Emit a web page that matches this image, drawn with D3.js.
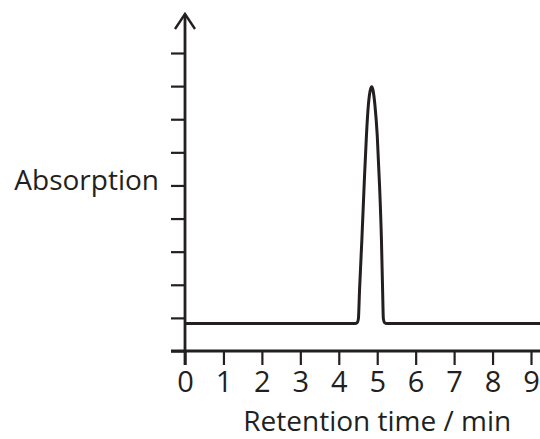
<!DOCTYPE html>
<html>
<head>
<meta charset="utf-8">
<script src="https://cdn.jsdelivr.net/npm/d3@7"></script>
<style>
  html, body { margin: 0; padding: 0; background: #fff; }
  svg { display: block; }
  text { font-family: "Open Sans", "Noto Sans", sans-serif; fill: #231f20; }
</style>
</head>
<body>
<svg id="chart" width="540" height="439"></svg>
<script>
// Data
const xTicks = [0, 1, 2, 3, 4, 5, 6, 7, 8, 9];
const yTicks = [0, 1, 2, 3, 4, 5, 6, 7, 8, 9];
const time = [0, 4.42, 4.48, 4.51, 4.54, 4.60, 4.66, 4.72, 4.77, 4.82, 4.86, 4.89, 4.94, 5.00, 5.06, 5.11, 5.14, 5.16, 5.19, 5.25, 9.24];
const absorption = [0.83, 0.83, 0.86, 0.97, 1.84, 3.35, 5.01, 6.52, 7.43, 7.88, 7.98, 7.88, 7.43, 6.52, 5.01, 3.35, 1.84, 0.97, 0.86, 0.83, 0.83];
const xLabel = "Retention time / min";
const yLabel = "Absorption";

const ink = "#231f20";
const svg = d3.select("#chart");

const x = d3.scaleLinear().domain([0, 9]).range([185, 531]);
const y = d3.scaleLinear().domain([0, 9]).range([351, 53]);

// Y axis ticks
const yAxis = d3.axisLeft(y).tickValues(yTicks).tickSize(14).tickFormat("");
const gy = svg.append("g").attr("transform", `translate(${x(0)},0)`).call(yAxis);
gy.select(".domain").remove();
gy.selectAll(".tick line").attr("stroke", ink).attr("stroke-width", 2.2);

// X axis ticks
const xAxis = d3.axisBottom(x).tickValues(xTicks).tickSize(14).tickFormat(d3.format("d"));
const gx = svg.append("g").attr("transform", `translate(0,${y(0)})`).call(xAxis);
gx.select(".domain").remove();
gx.selectAll(".tick line").attr("stroke", ink).attr("stroke-width", 2.2);
gx.selectAll(".tick text")
  .attr("y", 0).attr("dy", null)
  .attr("transform", "translate(0,41)")
  .style("font-size", "29px")
  .style("font-family", '"Open Sans", "Noto Sans", sans-serif')
  .attr("fill", ink);

// X axis line extending to the right edge
svg.append("line")
  .attr("x1", x(0) - 14).attr("x2", 540)
  .attr("y1", y(0)).attr("y2", y(0))
  .attr("stroke", ink).attr("stroke-width", 2.8);

// Y axis line with arrow
const yTop = 14;
svg.append("line")
  .attr("x1", x(0)).attr("x2", x(0))
  .attr("y1", y(0) + 14).attr("y2", yTop)
  .attr("stroke", ink).attr("stroke-width", 2.8);
svg.append("path")
  .attr("d", `M${x(0) - 10},${yTop + 15} L${x(0)},${yTop} L${x(0) + 10},${yTop + 15}`)
  .attr("fill", "none").attr("stroke", ink).attr("stroke-width", 2.4)
  .attr("stroke-linejoin", "miter");

// Signal trace
const pts = time.map((t, i) => [t, absorption[i]]);
const line = d3.line().x(d => x(d[0])).y(d => y(d[1])).curve(d3.curveMonotoneX);
svg.append("path")
  .datum(pts)
  .attr("d", line)
  .attr("fill", "none")
  .attr("stroke", ink)
  .attr("stroke-width", 3)
  .attr("stroke-linejoin", "round");

// Labels
svg.append("text")
  .attr("x", 159).attr("y", 190)
  .attr("text-anchor", "end")
  .style("font-size", "28px")
  .text(yLabel);

svg.append("text")
  .attr("x", x(5)).attr("y", 431)
  .attr("text-anchor", "middle")
  .style("font-size", "28px")
  .text(xLabel);
</script>
</body>
</html>
